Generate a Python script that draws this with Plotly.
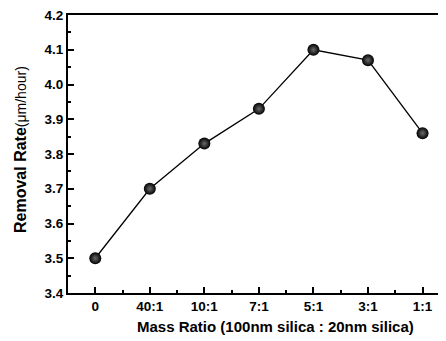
import plotly.graph_objects as go

categories = ["0", "40:1", "10:1", "7:1", "5:1", "3:1", "1:1"]
removal_rate = [3.50, 3.70, 3.83, 3.93, 4.10, 4.07, 3.86]
y_ticks = [3.4, 3.5, 3.6, 3.7, 3.8, 3.9, 4.0, 4.1, 4.2]

x_pos = list(range(len(categories)))
minor_x = [i + 0.5 for i in range(-1, len(categories))]

fig = go.Figure()
fig.add_trace(go.Scatter(
    x=x_pos, y=removal_rate, mode="lines+markers",
    line=dict(color="black", width=1.3),
    marker=dict(size=12, color="black",
                gradient=dict(type="radial", color="#6a6a6a"),
                line=dict(width=0)),
    showlegend=False,
))

ff = "Liberation Sans, Arial, sans-serif"
tickfont = dict(size=13.5, family=ff, color="black", weight="bold")
# page body has an 8px default margin, so the figure is offset by 8px
fig.update_layout(
    width=438, height=333,
    margin=dict(l=60, r=0, t=7, b=48),
    paper_bgcolor="white", plot_bgcolor="white",
    font=dict(family=ff, color="black"),
    xaxis=dict(
        range=[-0.5, 6.43], tickmode="array", tickvals=x_pos, ticktext=categories,
        ticks="inside", ticklen=6, tickwidth=1.5, tickcolor="black",
        minor=dict(tickmode="array", tickvals=minor_x, ticks="inside", ticklen=3, tickwidth=1.5, tickcolor="black"),
        showline=True, linecolor="black", linewidth=2, mirror=True,
        showgrid=False, zeroline=False, automargin=False,
        ticklabeloverflow="allow",
        tickfont=tickfont,
    ),
    yaxis=dict(
        range=[3.4, 4.2], tickmode="array", tickvals=y_ticks,
        ticktext=[f"{v:.1f}" for v in y_ticks],
        ticks="inside", ticklen=6, tickwidth=1.5, tickcolor="black",
        minor=dict(dtick=0.05, tick0=3.4, ticks="inside", ticklen=3, tickwidth=1.5, tickcolor="black"),
        showline=True, linecolor="black", linewidth=2, mirror=False,
        showgrid=False, zeroline=False, automargin=False,
        ticklabeloverflow="allow",
        tickfont=tickfont,
    ),
    annotations=[
        dict(text="<b>Mass Ratio (100nm silica : 20nm silica)</b>",
             xref="paper", yref="paper", x=0.5 + 18/378, y=0, yshift=-33,
             xanchor="center", yanchor="middle", showarrow=False,
             font=dict(size=15, family=ff, color="black")),
        dict(text="<b>Removal Rate</b><span style='font-size:14px'>(μm/hour)</span>",
             xref="paper", yref="paper", x=0, xshift=-48, y=0.5 + 4/278,
             xanchor="center", yanchor="middle", showarrow=False, textangle=-90,
             font=dict(size=16, family=ff, color="black")),
    ],
)

fig.write_html("out.html")
